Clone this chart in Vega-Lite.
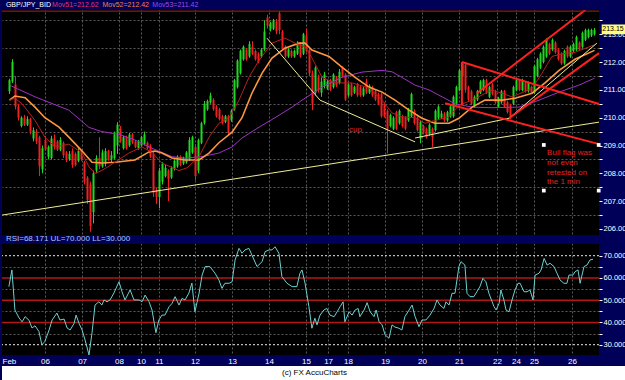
{
"$schema": "https://vega.github.io/schema/vega-lite/v6.json",
"background": "#000058",
"padding": 0,
"spacing": 0,
"config": {"view": {"stroke": null}, "font": "Liberation Sans", "text": {"font": "Liberation Sans", "fontSize": 8}, "axis": {"labelOverlap": false, "labelFlush": false, "labelBound": false, "tickCount": 100}},
"datasets": {
"bars": [
{"i":2,"o":210.95,"h":211.4,"l":210.85,"c":211.35},
{"i":3,"o":211.3,"h":212.1,"l":211.25,"c":212.0},
{"i":4,"o":211.2,"h":211.5,"l":210.3,"c":210.4},
{"i":5,"o":210.4,"h":210.5,"l":209.9,"c":210.0},
{"i":6,"o":209.7,"h":210.05,"l":209.65,"c":210.0},
{"i":7,"o":210.0,"h":210.1,"l":209.7,"c":209.75},
{"i":8,"o":209.75,"h":210.05,"l":209.7,"c":209.95},
{"i":9,"o":209.95,"h":210.0,"l":209.4,"c":209.5},
{"i":10,"o":209.25,"h":209.65,"l":209.15,"c":209.55},
{"i":11,"o":209.5,"h":209.6,"l":209.05,"c":209.15},
{"i":12,"o":209.3,"h":209.35,"l":207.9,"c":208.25},
{"i":13,"o":208.15,"h":209.0,"l":208.0,"c":208.9},
{"i":14,"o":209.2,"h":209.35,"l":208.8,"c":208.85},
{"i":15,"o":208.6,"h":209.0,"l":208.5,"c":208.95},
{"i":16,"o":208.55,"h":209.35,"l":208.5,"c":209.25},
{"i":17,"o":209.25,"h":209.4,"l":208.85,"c":208.95},
{"i":18,"o":209.15,"h":209.2,"l":208.8,"c":208.85},
{"i":19,"o":208.85,"h":209.3,"l":208.8,"c":209.2},
{"i":20,"o":209.1,"h":209.15,"l":208.55,"c":208.65},
{"i":21,"o":208.75,"h":208.8,"l":208.4,"c":208.5},
{"i":22,"o":208.5,"h":208.8,"l":208.45,"c":208.7},
{"i":23,"o":208.8,"h":208.9,"l":208.2,"c":208.3},
{"i":24,"o":208.7,"h":208.75,"l":208.25,"c":208.3},
{"i":25,"o":208.45,"h":208.9,"l":208.4,"c":208.8},
{"i":26,"o":208.75,"h":208.8,"l":208.45,"c":208.5},
{"i":27,"o":208.4,"h":208.45,"l":207.6,"c":207.7},
{"i":28,"o":207.85,"h":207.9,"l":206.9,"c":207.05},
{"i":29,"o":207.6,"h":207.7,"l":205.9,"c":206.1},
{"i":30,"o":206.6,"h":208.1,"l":206.2,"c":208.0},
{"i":31,"o":208.1,"h":208.65,"l":208.0,"c":208.55},
{"i":32,"o":208.55,"h":209.3,"l":208.15,"c":208.25},
{"i":33,"o":208.25,"h":208.85,"l":208.2,"c":208.75},
{"i":34,"o":208.35,"h":208.9,"l":208.25,"c":208.8},
{"i":35,"o":208.8,"h":208.85,"l":208.45,"c":208.5},
{"i":36,"o":208.5,"h":208.8,"l":208.4,"c":208.65},
{"i":37,"o":208.55,"h":209.5,"l":208.5,"c":209.4},
{"i":38,"o":209.0,"h":209.84,"l":208.7,"c":209.75},
{"i":39,"o":209.6,"h":209.7,"l":209.1,"c":209.15},
{"i":40,"o":208.9,"h":209.35,"l":208.85,"c":209.3},
{"i":41,"o":209.3,"h":209.35,"l":208.85,"c":208.9},
{"i":42,"o":209.0,"h":209.45,"l":208.95,"c":209.4},
{"i":43,"o":209.4,"h":209.45,"l":209.05,"c":209.1},
{"i":44,"o":209.15,"h":209.2,"l":208.9,"c":208.95},
{"i":45,"o":208.9,"h":209.2,"l":208.85,"c":209.15},
{"i":46,"o":209.0,"h":209.35,"l":208.95,"c":209.3},
{"i":47,"o":209.05,"h":209.5,"l":209.0,"c":209.4},
{"i":48,"o":209.1,"h":209.15,"l":208.85,"c":208.9},
{"i":49,"o":209.0,"h":209.05,"l":208.55,"c":208.6},
{"i":50,"o":208.7,"h":208.8,"l":207.15,"c":207.3},
{"i":51,"o":207.4,"h":207.5,"l":206.9,"c":207.15},
{"i":52,"o":207.15,"h":208.2,"l":206.75,"c":208.1},
{"i":53,"o":207.7,"h":208.4,"l":207.6,"c":208.35},
{"i":54,"o":207.9,"h":208.3,"l":207.85,"c":208.2},
{"i":55,"o":208.1,"h":208.15,"l":207.0,"c":207.8},
{"i":56,"o":207.85,"h":208.25,"l":207.8,"c":208.2},
{"i":57,"o":208.15,"h":208.5,"l":208.1,"c":208.45},
{"i":58,"o":208.25,"h":208.65,"l":208.2,"c":208.6},
{"i":59,"o":208.6,"h":208.65,"l":208.25,"c":208.3},
{"i":60,"o":208.35,"h":208.6,"l":208.3,"c":208.55},
{"i":61,"o":208.4,"h":208.8,"l":208.35,"c":208.75},
{"i":62,"o":208.5,"h":209.3,"l":208.45,"c":209.2},
{"i":63,"o":208.75,"h":209.35,"l":208.7,"c":209.3},
{"i":64,"o":208.95,"h":209.05,"l":207.75,"c":207.9},
{"i":65,"o":208.1,"h":209.25,"l":208.0,"c":209.2},
{"i":66,"o":209.1,"h":209.85,"l":209.05,"c":209.8},
{"i":67,"o":209.8,"h":210.6,"l":209.75,"c":210.5},
{"i":68,"o":210.3,"h":210.65,"l":210.25,"c":210.6},
{"i":69,"o":210.55,"h":210.9,"l":210.5,"c":210.8},
{"i":70,"o":210.65,"h":210.7,"l":210.25,"c":210.3},
{"i":71,"o":210.4,"h":210.45,"l":210.0,"c":210.05},
{"i":72,"o":210.3,"h":210.35,"l":209.9,"c":209.95},
{"i":73,"o":210.05,"h":210.1,"l":209.75,"c":209.8},
{"i":74,"o":209.85,"h":210.1,"l":209.8,"c":210.05},
{"i":75,"o":210.05,"h":210.1,"l":209.35,"c":209.45},
{"i":76,"o":209.9,"h":210.3,"l":209.85,"c":210.25},
{"i":77,"o":210.3,"h":211.4,"l":210.25,"c":211.35},
{"i":78,"o":211.1,"h":212.1,"l":211.05,"c":212.05},
{"i":79,"o":211.6,"h":212.45,"l":211.55,"c":212.4},
{"i":80,"o":212.1,"h":212.6,"l":212.05,"c":212.55},
{"i":81,"o":212.45,"h":212.5,"l":212.05,"c":212.1},
{"i":82,"o":212.2,"h":212.75,"l":212.15,"c":212.65},
{"i":83,"o":212.55,"h":212.75,"l":212.25,"c":212.3},
{"i":84,"o":212.4,"h":212.45,"l":212.05,"c":212.1},
{"i":85,"o":212.3,"h":212.35,"l":211.95,"c":212.0},
{"i":86,"o":212.2,"h":212.5,"l":212.15,"c":212.45},
{"i":87,"o":212.45,"h":213.5,"l":212.4,"c":213.1},
{"i":88,"o":213.6,"h":213.7,"l":213.2,"c":213.3},
{"i":89,"o":213.2,"h":213.45,"l":213.1,"c":213.4},
{"i":90,"o":213.2,"h":213.55,"l":213.15,"c":213.5},
{"i":91,"o":213.45,"h":213.55,"l":213.0,"c":213.1},
{"i":92,"o":213.75,"h":213.82,"l":213.0,"c":213.15},
{"i":93,"o":213.1,"h":213.15,"l":212.45,"c":212.5},
{"i":94,"o":212.55,"h":212.6,"l":212.15,"c":212.2},
{"i":95,"o":212.2,"h":212.5,"l":212.15,"c":212.45},
{"i":96,"o":212.4,"h":212.45,"l":212.15,"c":212.2},
{"i":97,"o":212.2,"h":212.45,"l":212.15,"c":212.4},
{"i":98,"o":212.3,"h":212.75,"l":212.25,"c":212.7},
{"i":99,"o":212.65,"h":212.7,"l":212.15,"c":212.2},
{"i":100,"o":212.3,"h":213.05,"l":212.25,"c":213.0},
{"i":101,"o":212.95,"h":213.2,"l":212.35,"c":212.4},
{"i":102,"o":212.43,"h":212.5,"l":211.5,"c":211.6},
{"i":103,"o":211.6,"h":211.7,"l":210.27,"c":210.5},
{"i":104,"o":210.9,"h":211.85,"l":210.8,"c":211.8},
{"i":105,"o":211.45,"h":211.55,"l":210.9,"c":211.0},
{"i":106,"o":210.9,"h":211.45,"l":210.75,"c":211.3},
{"i":107,"o":211.15,"h":211.65,"l":211.05,"c":211.55},
{"i":108,"o":211.05,"h":211.35,"l":211.0,"c":211.3},
{"i":109,"o":211.35,"h":211.4,"l":210.95,"c":211.0},
{"i":110,"o":211.1,"h":211.6,"l":211.05,"c":211.55},
{"i":111,"o":211.45,"h":211.5,"l":211.1,"c":211.15},
{"i":112,"o":211.25,"h":211.75,"l":211.2,"c":211.65},
{"i":113,"o":211.8,"h":211.85,"l":211.45,"c":211.5},
{"i":114,"o":211.55,"h":211.6,"l":210.6,"c":210.65},
{"i":115,"o":210.8,"h":211.25,"l":210.75,"c":211.2},
{"i":116,"o":211.2,"h":211.25,"l":210.75,"c":210.8},
{"i":117,"o":210.9,"h":211.15,"l":210.85,"c":211.1},
{"i":118,"o":211.2,"h":211.25,"l":210.75,"c":210.8},
{"i":119,"o":211.1,"h":211.15,"l":210.75,"c":210.8},
{"i":120,"o":210.8,"h":211.1,"l":210.75,"c":211.05},
{"i":121,"o":211.3,"h":211.4,"l":210.85,"c":210.9},
{"i":122,"o":210.9,"h":211.2,"l":210.85,"c":211.15},
{"i":123,"o":211.1,"h":211.15,"l":210.75,"c":210.8},
{"i":124,"o":210.95,"h":211.0,"l":210.6,"c":210.65},
{"i":125,"o":210.85,"h":210.9,"l":210.45,"c":210.5},
{"i":126,"o":210.85,"h":210.9,"l":210.0,"c":210.05},
{"i":127,"o":210.5,"h":210.55,"l":210.0,"c":210.05},
{"i":128,"o":210.25,"h":210.3,"l":208.72,"c":209.6},
{"i":129,"o":209.7,"h":210.15,"l":209.65,"c":210.1},
{"i":130,"o":209.6,"h":210.05,"l":209.55,"c":210.0},
{"i":131,"o":210.2,"h":210.25,"l":209.55,"c":209.6},
{"i":132,"o":209.8,"h":210.3,"l":209.75,"c":210.25},
{"i":133,"o":210.05,"h":210.1,"l":209.65,"c":209.7},
{"i":134,"o":210.0,"h":210.05,"l":209.55,"c":209.6},
{"i":135,"o":209.9,"h":210.35,"l":209.85,"c":210.3},
{"i":136,"o":210.05,"h":210.9,"l":210.0,"c":210.85},
{"i":137,"o":210.25,"h":210.3,"l":209.75,"c":209.8},
{"i":138,"o":210.0,"h":210.05,"l":209.5,"c":209.55},
{"i":139,"o":209.25,"h":209.9,"l":209.08,"c":209.85},
{"i":140,"o":209.7,"h":209.75,"l":209.4,"c":209.45},
{"i":141,"o":209.6,"h":209.65,"l":209.25,"c":209.3},
{"i":142,"o":209.4,"h":209.8,"l":209.35,"c":209.75},
{"i":143,"o":209.6,"h":209.65,"l":208.95,"c":209.3},
{"i":144,"o":209.55,"h":210.3,"l":209.5,"c":210.25},
{"i":145,"o":210.0,"h":210.45,"l":209.95,"c":210.4},
{"i":146,"o":210.0,"h":210.25,"l":209.95,"c":210.15},
{"i":147,"o":210.15,"h":210.2,"l":209.85,"c":209.9},
{"i":148,"o":209.9,"h":210.25,"l":209.85,"c":210.2},
{"i":149,"o":210.05,"h":210.45,"l":210.0,"c":210.4},
{"i":150,"o":210.05,"h":210.8,"l":210.0,"c":210.75},
{"i":151,"o":210.5,"h":211.15,"l":210.45,"c":211.1},
{"i":152,"o":210.99,"h":211.75,"l":210.95,"c":211.7},
{"i":153,"o":211.5,"h":212.0,"l":211.45,"c":211.95},
{"i":154,"o":211.9,"h":211.95,"l":210.9,"c":211.0},
{"i":155,"o":211.1,"h":211.15,"l":210.6,"c":210.65},
{"i":156,"o":210.95,"h":211.0,"l":210.45,"c":210.5},
{"i":157,"o":210.4,"h":210.8,"l":210.35,"c":210.75},
{"i":158,"o":210.65,"h":211.0,"l":210.6,"c":210.95},
{"i":159,"o":210.9,"h":211.35,"l":210.85,"c":211.3},
{"i":160,"o":211.0,"h":211.4,"l":210.95,"c":211.35},
{"i":161,"o":211.35,"h":211.4,"l":210.85,"c":210.9},
{"i":162,"o":210.75,"h":211.15,"l":210.7,"c":211.1},
{"i":163,"o":211.2,"h":211.25,"l":210.8,"c":210.85},
{"i":164,"o":210.95,"h":211.0,"l":210.5,"c":210.55},
{"i":165,"o":210.4,"h":210.75,"l":210.35,"c":210.7},
{"i":166,"o":210.55,"h":211.0,"l":210.5,"c":210.95},
{"i":167,"o":210.95,"h":211.0,"l":210.35,"c":210.4},
{"i":168,"o":210.55,"h":210.6,"l":210.15,"c":210.2},
{"i":169,"o":210.45,"h":210.5,"l":209.95,"c":210.0},
{"i":170,"o":210.5,"h":211.15,"l":210.45,"c":211.1},
{"i":171,"o":210.99,"h":211.4,"l":210.95,"c":211.35},
{"i":172,"o":211.35,"h":211.4,"l":210.95,"c":211.0},
{"i":173,"o":210.99,"h":211.4,"l":210.95,"c":211.35},
{"i":174,"o":211.25,"h":211.3,"l":210.9,"c":210.95},
{"i":175,"o":210.95,"h":211.3,"l":210.9,"c":211.25},
{"i":176,"o":211.1,"h":211.15,"l":210.85,"c":210.9},
{"i":177,"o":210.9,"h":211.9,"l":210.85,"c":211.85},
{"i":178,"o":211.5,"h":212.15,"l":211.45,"c":212.1},
{"i":179,"o":211.8,"h":212.35,"l":211.75,"c":212.3},
{"i":180,"o":212.0,"h":212.6,"l":211.95,"c":212.55},
{"i":181,"o":212.2,"h":212.85,"l":212.15,"c":212.8},
{"i":182,"o":212.65,"h":212.7,"l":212.25,"c":212.3},
{"i":183,"o":212.45,"h":212.85,"l":212.4,"c":212.8},
{"i":184,"o":212.7,"h":212.75,"l":212.3,"c":212.35},
{"i":185,"o":212.45,"h":212.5,"l":212.05,"c":212.1},
{"i":186,"o":212.3,"h":212.35,"l":211.9,"c":211.95},
{"i":187,"o":211.95,"h":212.45,"l":211.9,"c":212.4},
{"i":188,"o":212.55,"h":212.6,"l":212.15,"c":212.2},
{"i":189,"o":212.2,"h":212.6,"l":212.15,"c":212.55},
{"i":190,"o":212.4,"h":212.7,"l":212.35,"c":212.65},
{"i":191,"o":212.45,"h":212.95,"l":212.4,"c":212.9},
{"i":192,"o":212.7,"h":212.75,"l":212.4,"c":212.45},
{"i":193,"o":212.55,"h":213.1,"l":212.5,"c":213.05},
{"i":194,"o":212.8,"h":213.2,"l":212.75,"c":213.15},
{"i":195,"o":212.9,"h":213.2,"l":212.85,"c":213.15},
{"i":196,"o":212.95,"h":213.2,"l":212.9,"c":213.15},
{"i":197,"o":213.0,"h":213.22,"l":212.95,"c":213.15}
],
"ma": [
{"s":"Mov51","i":2,"v":210.63},{"s":"Mov51","i":3.8,"v":210.7},{"s":"Mov51","i":6.2,"v":210.5},{"s":"Mov51","i":10.5,"v":209.9},{"s":"Mov51","i":13.8,"v":209.3},{"s":"Mov51","i":17.2,"v":208.95},{"s":"Mov51","i":21.8,"v":209.05},{"s":"Mov51","i":26.2,"v":208.73},{"s":"Mov51","i":28.5,"v":208.23},{"s":"Mov51","i":30.5,"v":208.0},{"s":"Mov51","i":32.8,"v":208.1},{"s":"Mov51","i":37.2,"v":208.4},{"s":"Mov51","i":41.8,"v":208.73},{"s":"Mov51","i":46.2,"v":208.95},{"s":"Mov51","i":49.5,"v":208.75},{"s":"Mov51","i":52.8,"v":208.37},{"s":"Mov51","i":58.5,"v":208.1},{"s":"Mov51","i":61.2,"v":208.2},{"s":"Mov51","i":65.2,"v":208.6},{"s":"Mov51","i":68.5,"v":209.3},{"s":"Mov51","i":71.8,"v":209.8},{"s":"Mov51","i":75.2,"v":210.0},{"s":"Mov51","i":78.5,"v":210.63},{"s":"Mov51","i":81.8,"v":211.45},{"s":"Mov51","i":85.2,"v":212.07},{"s":"Mov51","i":89.5,"v":212.68},{"s":"Mov51","i":93.8,"v":212.86},{"s":"Mov51","i":97.2,"v":212.68},{"s":"Mov51","i":100.5,"v":212.55},{"s":"Mov51","i":102.8,"v":212.15},{"s":"Mov51","i":106.2,"v":211.45},{"s":"Mov51","i":110.5,"v":211.25},{"s":"Mov51","i":116.2,"v":211.25},{"s":"Mov51","i":121.8,"v":211.07},{"s":"Mov51","i":126.2,"v":210.63},{"s":"Mov51","i":129.5,"v":210.17},{"s":"Mov51","i":132.8,"v":210.03},{"s":"Mov51","i":137.2,"v":210.0},{"s":"Mov51","i":140.5,"v":209.8},{"s":"Mov51","i":143.8,"v":209.9},{"s":"Mov51","i":148.5,"v":210.03},{"s":"Mov51","i":151.8,"v":210.45},{"s":"Mov51","i":156.2,"v":210.63},{"s":"Mov51","i":162.8,"v":211.0},{"s":"Mov51","i":169.5,"v":210.75},{"s":"Mov51","i":176.2,"v":211.05},{"s":"Mov51","i":179.5,"v":211.6},{"s":"Mov51","i":182.8,"v":212.2},{"s":"Mov51","i":186.2,"v":212.3},{"s":"Mov51","i":190.5,"v":212.35},{"s":"Mov51","i":197,"v":212.62},
{"s":"Mov52","i":2,"v":210.63},{"s":"Mov52","i":3.8,"v":210.78},{"s":"Mov52","i":7.2,"v":210.72},{"s":"Mov52","i":10.5,"v":210.38},{"s":"Mov52","i":13.8,"v":210.0},{"s":"Mov52","i":18.5,"v":209.66},{"s":"Mov52","i":21.8,"v":209.3},{"s":"Mov52","i":26.2,"v":208.8},{"s":"Mov52","i":29.5,"v":208.4},{"s":"Mov52","i":32.8,"v":208.37},{"s":"Mov52","i":37.2,"v":208.4},{"s":"Mov52","i":43.8,"v":208.48},{"s":"Mov52","i":48.5,"v":208.77},{"s":"Mov52","i":50.5,"v":208.8},{"s":"Mov52","i":52.8,"v":208.73},{"s":"Mov52","i":56.2,"v":208.55},{"s":"Mov52","i":60.5,"v":208.48},{"s":"Mov52","i":65.2,"v":208.48},{"s":"Mov52","i":68.5,"v":208.73},{"s":"Mov52","i":71.8,"v":209.1},{"s":"Mov52","i":76.2,"v":209.48},{"s":"Mov52","i":79.5,"v":210.0},{"s":"Mov52","i":82.8,"v":210.88},{"s":"Mov52","i":86.2,"v":211.6},{"s":"Mov52","i":89.5,"v":212.14},{"s":"Mov52","i":93.8,"v":212.5},{"s":"Mov52","i":98.5,"v":212.68},{"s":"Mov52","i":100.5,"v":212.68},{"s":"Mov52","i":102.8,"v":212.43},{"s":"Mov52","i":108.5,"v":212.2},{"s":"Mov52","i":112.8,"v":211.82},{"s":"Mov52","i":117.2,"v":211.45},{"s":"Mov52","i":121.8,"v":211.1},{"s":"Mov52","i":126.2,"v":210.92},{"s":"Mov52","i":130.5,"v":210.63},{"s":"Mov52","i":135.2,"v":210.27},{"s":"Mov52","i":139.5,"v":209.98},{"s":"Mov52","i":143.8,"v":209.8},{"s":"Mov52","i":148.5,"v":209.8},{"s":"Mov52","i":151.8,"v":209.98},{"s":"Mov52","i":156.2,"v":210.38},{"s":"Mov52","i":160.5,"v":210.63},{"s":"Mov52","i":166.2,"v":210.63},{"s":"Mov52","i":170.5,"v":210.7},{"s":"Mov52","i":176.2,"v":210.88},{"s":"Mov52","i":180.5,"v":211.25},{"s":"Mov52","i":185.2,"v":211.7},{"s":"Mov52","i":190.5,"v":212.1},{"s":"Mov52","i":197,"v":212.42},
{"s":"Mov53","i":2,"v":211.17},{"s":"Mov53","i":10.5,"v":210.75},{"s":"Mov53","i":21.8,"v":210.27},{"s":"Mov53","i":28.5,"v":209.65},{"s":"Mov53","i":32.8,"v":209.5},{"s":"Mov53","i":38.5,"v":209.4},{"s":"Mov53","i":43.8,"v":209.2},{"s":"Mov53","i":49.5,"v":208.9},{"s":"Mov53","i":56.2,"v":208.6},{"s":"Mov53","i":60.5,"v":208.55},{"s":"Mov53","i":66.2,"v":208.6},{"s":"Mov53","i":71.8,"v":208.73},{"s":"Mov53","i":76.2,"v":208.95},{"s":"Mov53","i":79.5,"v":209.27},{"s":"Mov53","i":85.2,"v":209.66},{"s":"Mov53","i":90.5,"v":210.0},{"s":"Mov53","i":96.2,"v":210.38},{"s":"Mov53","i":99.5,"v":210.63},{"s":"Mov53","i":106.2,"v":211.1},{"s":"Mov53","i":112.8,"v":211.45},{"s":"Mov53","i":119.5,"v":211.64},{"s":"Mov53","i":126.2,"v":211.7},{"s":"Mov53","i":129.5,"v":211.65},{"s":"Mov53","i":132.8,"v":211.45},{"s":"Mov53","i":137.2,"v":211.17},{"s":"Mov53","i":141.8,"v":211.0},{"s":"Mov53","i":146.2,"v":210.75},{"s":"Mov53","i":150.5,"v":210.5},{"s":"Mov53","i":156.2,"v":210.38},{"s":"Mov53","i":162.8,"v":210.36},{"s":"Mov53","i":171.8,"v":210.38},{"s":"Mov53","i":178.5,"v":210.63},{"s":"Mov53","i":185.2,"v":210.92},{"s":"Mov53","i":191.8,"v":211.17},{"s":"Mov53","i":197,"v":211.42}
],
"ylines": [
{"g":"L","i":-0.5,"v":206.5},{"g":"L","i":198.5,"v":209.84},
{"g":"A","i":87.8,"v":212.86},{"g":"A","i":105.5,"v":210.63},{"g":"A","i":137.2,"v":209.13},
{"g":"C","i":137.2,"v":209.27},{"g":"C","i":168.5,"v":209.98},{"g":"C","i":197.8,"v":212.68}
],
"rlines": [
{"g":"R1","i":157.8,"v":210.88},{"g":"R1","i":193.9,"v":213.87},
{"g":"R2","i":168.5,"v":209.98},{"g":"R2","i":198.5,"v":212.32},
{"g":"R3","i":152.8,"v":212.0},{"g":"R3","i":198.5,"v":210.49},
{"g":"R4","i":147.2,"v":210.52},{"g":"R4","i":198.5,"v":209.05},
{"g":"R5","i":152.8,"v":212.0},{"g":"R5","i":152.8,"v":210.45}
],
"notes": [
{"i":115.2,"v":209.55,"t":"cup"},
{"i":181.2,"v":208.72,"t":"Bull flag was"},
{"i":181.2,"v":208.36,"t":"not even"},
{"i":181.2,"v":208.02,"t":"retested on"},
{"i":181.2,"v":207.68,"t":"the 1 min"}
],
"handles": [{"i":180.1,"v":209.02},{"i":180.1,"v":207.38},{"i":198.4,"v":209.02},{"i":198.4,"v":207.38}],
"hdr": [
{"i":0.8,"v":214.05,"t":"GBP/JPY_BID","s":"a"},
{"i":16.2,"v":214.05,"t":"Mov51=212.62","s":"b"},
{"i":33.0,"v":214.05,"t":"Mov52=212.42","s":"c"},
{"i":49.6,"v":214.05,"t":"Mov53=211.42","s":"d"}
],
"rsi": [
{"i":1.8,"r":56.1},{"i":2.8,"r":63.6},{"i":3.8,"r":45.6},{"i":5.2,"r":42},{"i":6.2,"r":40.3},{"i":7.2,"r":42.6},{"i":8.5,"r":41},{"i":9.5,"r":37.5},{"i":10.5,"r":38.5},{"i":11.8,"r":36},{"i":12.8,"r":29.9},{"i":13.8,"r":31.5},{"i":15.2,"r":36.6},{"i":16.2,"r":41.1},{"i":17.8,"r":44.2},{"i":18.8,"r":41.1},{"i":20.2,"r":41.5},{"i":21.2,"r":37.5},{"i":22.2,"r":36.6},{"i":23.5,"r":39.5},{"i":24.2,"r":43.3},{"i":25.2,"r":39.5},{"i":26.2,"r":36.6},{"i":27.2,"r":32.1},{"i":28.5,"r":25.4},{"i":29.5,"r":35.3},{"i":30.5,"r":47.8},{"i":31.8,"r":49.3},{"i":32.8,"r":47.8},{"i":33.5,"r":50.1},{"i":34.5,"r":49.3},{"i":35.5,"r":50.1},{"i":36.8,"r":53.2},{"i":38.5,"r":58.3},{"i":39.5,"r":53.8},{"i":40.5,"r":50.1},{"i":42.2,"r":54.6},{"i":43.5,"r":50.1},{"i":45.2,"r":50.1},{"i":46.2,"r":49.3},{"i":47.2,"r":52.3},{"i":48.5,"r":49.3},{"i":49.5,"r":45.6},{"i":50.8,"r":35.4},{"i":51.8,"r":41.1},{"i":52.8,"r":43.3},{"i":53.8,"r":43.3},{"i":55.2,"r":47.1},{"i":56.2,"r":48.6},{"i":57.2,"r":51.6},{"i":58.5,"r":47.8},{"i":59.5,"r":50.8},{"i":60.5,"r":50.1},{"i":61.8,"r":53.2},{"i":62.8,"r":57.7},{"i":63.8,"r":44.8},{"i":65.2,"r":53.2},{"i":66.2,"r":61.3},{"i":67.2,"r":65.1},{"i":68.8,"r":65.1},{"i":70.5,"r":62.1},{"i":71.8,"r":59.1},{"i":72.8,"r":55.3},{"i":73.8,"r":57.6},{"i":75.2,"r":57.6},{"i":76.2,"r":58.3},{"i":77.2,"r":68.1},{"i":78.5,"r":73.3},{"i":79.5,"r":71.1},{"i":80.5,"r":72.6},{"i":81.8,"r":73.3},{"i":82.8,"r":70.3},{"i":84.5,"r":65.1},{"i":86.2,"r":67.3},{"i":87.2,"r":71.8},{"i":88.5,"r":72.6},{"i":89.5,"r":72.6},{"i":90.5,"r":74.0},{"i":91.8,"r":71.1},{"i":92.8,"r":60.6},{"i":94.5,"r":57.6},{"i":96.2,"r":56.1},{"i":97.8,"r":56.1},{"i":98.8,"r":62.1},{"i":99.5,"r":63.6},{"i":100.5,"r":57.7},{"i":101.8,"r":47.1},{"i":102.8,"r":37.4},{"i":103.8,"r":41.9},{"i":104.5,"r":38.9},{"i":105.5,"r":43.3},{"i":106.8,"r":45.6},{"i":107.8,"r":46.3},{"i":108.8,"r":43.3},{"i":110.2,"r":42.6},{"i":111.2,"r":44.8},{"i":112.2,"r":47.1},{"i":113.2,"r":49.3},{"i":113.8,"r":40.3},{"i":115.2,"r":44.8},{"i":116.2,"r":43.3},{"i":117.2,"r":45.6},{"i":118.2,"r":46.3},{"i":118.8,"r":42.6},{"i":120.2,"r":45.6},{"i":121.2,"r":48.9},{"i":122.2,"r":44.8},{"i":123.5,"r":42.6},{"i":124.2,"r":45.6},{"i":125.2,"r":40.3},{"i":126.2,"r":38.9},{"i":127.2,"r":34.4},{"i":128.5,"r":32.9},{"i":129.5,"r":38.9},{"i":130.5,"r":37.9},{"i":131.8,"r":37.4},{"i":132.8,"r":36.6},{"i":133.8,"r":42.6},{"i":135.2,"r":45.6},{"i":136.2,"r":47.8},{"i":137.2,"r":42.6},{"i":138.5,"r":38.1},{"i":139.5,"r":41.1},{"i":140.8,"r":41.1},{"i":142.2,"r":43.3},{"i":143.5,"r":46.3},{"i":144.5,"r":50.1},{"i":145.5,"r":47.8},{"i":146.8,"r":46.3},{"i":147.5,"r":49.3},{"i":148.5,"r":47.8},{"i":149.5,"r":53.1},{"i":150.5,"r":53.1},{"i":151.8,"r":65.1},{"i":152.5,"r":67.3},{"i":153.8,"r":65.8},{"i":154.5,"r":53.1},{"i":155.5,"r":51.6},{"i":156.8,"r":51.6},{"i":157.8,"r":53.8},{"i":158.8,"r":56.1},{"i":159.8,"r":59.8},{"i":160.8,"r":58.3},{"i":161.8,"r":53.1},{"i":163.5,"r":47.1},{"i":164.2,"r":45.6},{"i":165.2,"r":48.6},{"i":165.8,"r":54.6},{"i":166.8,"r":50.1},{"i":167.5,"r":45.6},{"i":168.5,"r":44.8},{"i":169.5,"r":50.1},{"i":170.5,"r":54.6},{"i":171.5,"r":57.6},{"i":172.2,"r":57.6},{"i":173.5,"r":53.8},{"i":174.5,"r":53.8},{"i":175.5,"r":54.6},{"i":176.5,"r":50.1},{"i":177.2,"r":61.3},{"i":178.5,"r":62.1},{"i":179.2,"r":63.6},{"i":180.2,"r":68.8},{"i":181.2,"r":65.8},{"i":182.2,"r":66.6},{"i":183.5,"r":65.1},{"i":184.5,"r":62.1},{"i":185.5,"r":59.1},{"i":186.8,"r":57.6},{"i":187.8,"r":57.6},{"i":188.5,"r":61.3},{"i":189.8,"r":61.3},{"i":190.5,"r":62.8},{"i":191.5,"r":63.6},{"i":192.2,"r":57.6},{"i":193.5,"r":65.1},{"i":194.5,"r":65.8},{"i":195.5,"r":68.1},{"i":196.5,"r":68.4}
]
},
"vconcat": [
{
"width": 597, "height": 235,
"view": {"fill": "#000000", "stroke": null},
"layer": [
{"data": {"name": "bars"}, "mark": {"type": "rule", "strokeWidth": 1},
 "encoding": {
  "x": {"field": "i", "type": "quantitative", "scale": {"domain": [-0.5, 198.5], "nice": false, "zero": false},
        "axis": {"orient": "bottom", "values": [13.8,26.2,38.5,45.8,51.8,63.8,76.2,88.5,100.8,108.2,114.8,127.2,139.5,151.8,164.5,170.8,176.8,189.5], "tickCount": 100, "labels": false, "ticks": false, "domain": false, "grid": true, "gridColor": "#5a5a5a", "gridDash": [2,2], "title": null, "minExtent": 0, "maxExtent": 0}},
  "y": {"field": "l", "type": "quantitative", "scale": {"domain": [205.784, 214.23], "nice": false, "zero": false},
        "axis": {"orient": "right", "values": [206,206.5,207,207.5,208,208.5,209,209.5,210,210.5,211,211.5,212,212.5,213,213.5], "tickCount": 100, "labelExpr": "datum.value % 1 == 0 ? format(datum.value, '.2f') : ''", "grid": true, "gridColor": "#5a5a5a", "gridDash": [2,2], "gridOpacity": {"condition": {"test": "datum.value % 1 != 0", "value": 1}, "value": 0}, "ticks": true, "tickColor": "#ffffff", "tickSize": 3, "domain": false, "labelColor": "#ffffff", "labelFont": "Liberation Sans", "labelFontSize": 7.5, "labelPadding": 1, "labelOverlap": false, "labelBound": false, "title": null, "minExtent": 28, "maxExtent": 28}},
  "y2": {"field": "h"},
  "color": {"condition": {"test": "datum.c >= datum.o", "value": "#20d820"}, "value": "#ee2020"}
 }},
{"data": {"name": "bars"}, "mark": {"type": "rule", "strokeWidth": 2},
 "encoding": {
  "x": {"field": "i", "type": "quantitative", "scale": {"domain": [-0.5, 198.5], "nice": false, "zero": false}},
  "y": {"field": "o", "type": "quantitative", "scale": {"domain": [205.784, 214.23], "nice": false, "zero": false}},
  "y2": {"field": "c"},
  "color": {"condition": {"test": "datum.c >= datum.o", "value": "#20d820"}, "value": "#ee2020"}
 }},
{"data": {"name": "ma"}, "transform": [{"filter": "datum.s == 'Mov53'"}], "mark": {"type": "line", "color": "#a030c8", "strokeWidth": 1},
 "encoding": {
  "x": {"field": "i", "type": "quantitative", "scale": {"domain": [-0.5, 198.5], "nice": false, "zero": false}},
  "y": {"field": "v", "type": "quantitative", "scale": {"domain": [205.784, 214.23], "nice": false, "zero": false}}
 }},
{"data": {"name": "ma"}, "transform": [{"filter": "datum.s == 'Mov52'"}], "mark": {"type": "line", "color": "#ff9640", "strokeWidth": 1.6},
 "encoding": {
  "x": {"field": "i", "type": "quantitative", "scale": {"domain": [-0.5, 198.5], "nice": false, "zero": false}},
  "y": {"field": "v", "type": "quantitative", "scale": {"domain": [205.784, 214.23], "nice": false, "zero": false}}
 }},
{"data": {"name": "ma"}, "transform": [{"filter": "datum.s == 'Mov51'"}], "mark": {"type": "line", "color": "#b82020", "strokeWidth": 1},
 "encoding": {
  "x": {"field": "i", "type": "quantitative", "scale": {"domain": [-0.5, 198.5], "nice": false, "zero": false}},
  "y": {"field": "v", "type": "quantitative", "scale": {"domain": [205.784, 214.23], "nice": false, "zero": false}}
 }},
{"data": {"name": "ylines"}, "mark": {"type": "line", "color": "#eeee99", "strokeWidth": 1},
 "encoding": {
  "x": {"field": "i", "type": "quantitative", "scale": {"domain": [-0.5, 198.5], "nice": false, "zero": false}},
  "y": {"field": "v", "type": "quantitative", "scale": {"domain": [205.784, 214.23], "nice": false, "zero": false}},
  "detail": {"field": "g", "type": "nominal"}
 }},
{"data": {"name": "rlines"}, "mark": {"type": "line", "color": "#ff2020", "strokeWidth": 2},
 "encoding": {
  "x": {"field": "i", "type": "quantitative", "scale": {"domain": [-0.5, 198.5], "nice": false, "zero": false}},
  "y": {"field": "v", "type": "quantitative", "scale": {"domain": [205.784, 214.23], "nice": false, "zero": false}},
  "detail": {"field": "g", "type": "nominal"}
 }},
{"data": {"values": [{"v": 213.83}]}, "mark": {"type": "rule", "color": "#a82020", "strokeWidth": 1},
 "encoding": {
  "y": {"field": "v", "type": "quantitative", "scale": {"domain": [205.784, 214.23], "nice": false, "zero": false}}
 }},
{"data": {"name": "notes"}, "mark": {"type": "text", "align": "left", "baseline": "middle", "color": "#e02424", "fontSize": 8, "font": "Liberation Sans"},
 "encoding": {
  "x": {"field": "i", "type": "quantitative", "scale": {"domain": [-0.5, 198.5], "nice": false, "zero": false}},
  "y": {"field": "v", "type": "quantitative", "scale": {"domain": [205.784, 214.23], "nice": false, "zero": false}},
  "text": {"field": "t"}
 }},
{"data": {"name": "handles"}, "mark": {"type": "square", "filled": true, "color": "#ffffff", "size": 14, "opacity": 1},
 "encoding": {
  "x": {"field": "i", "type": "quantitative", "scale": {"domain": [-0.5, 198.5], "nice": false, "zero": false}},
  "y": {"field": "v", "type": "quantitative", "scale": {"domain": [205.784, 214.23], "nice": false, "zero": false}}
 }},
{"data": {"values": [{"i": -0.5, "i2": 198.5, "v": 213.87, "v2": 214.23}]}, "mark": {"type": "rect", "color": "#000058"},
 "encoding": {
  "x": {"field": "i", "type": "quantitative", "scale": {"domain": [-0.5, 198.5], "nice": false, "zero": false}},
  "x2": {"field": "i2"},
  "y": {"field": "v", "type": "quantitative", "scale": {"domain": [205.784, 214.23], "nice": false, "zero": false}},
  "y2": {"field": "v2"}
 }},
{"data": {"name": "hdr"}, "mark": {"type": "text", "align": "left", "baseline": "middle", "fontSize": 7, "font": "Liberation Sans"},
 "encoding": {
  "x": {"field": "i", "type": "quantitative", "scale": {"domain": [-0.5, 198.5], "nice": false, "zero": false}},
  "y": {"field": "v", "type": "quantitative", "scale": {"domain": [205.784, 214.23], "nice": false, "zero": false}},
  "text": {"field": "t"},
  "color": {"field": "s", "type": "nominal", "scale": {"domain": ["a","b","c","d"], "range": ["#ffffff","#e8306a","#f08050","#a848e0"]}, "legend": null}
 }},
{"data": {"values": [{"i": 199.4, "i2": 207.6, "v": 213.0, "v2": 213.35}]}, "mark": {"type": "rect", "color": "#ffff80"},
 "encoding": {
  "x": {"field": "i", "type": "quantitative", "scale": {"domain": [-0.5, 198.5], "nice": false, "zero": false}},
  "x2": {"field": "i2"},
  "y": {"field": "v", "type": "quantitative", "scale": {"domain": [205.784, 214.23], "nice": false, "zero": false}},
  "y2": {"field": "v2"}
 }},
{"data": {"values": [{"i": 199.6, "v": 213.17, "t": "213.15"}]}, "mark": {"type": "text", "align": "left", "baseline": "middle", "color": "#000000", "fontSize": 7, "font": "Liberation Sans"},
 "encoding": {
  "x": {"field": "i", "type": "quantitative", "scale": {"domain": [-0.5, 198.5], "nice": false, "zero": false}},
  "y": {"field": "v", "type": "quantitative", "scale": {"domain": [205.784, 214.23], "nice": false, "zero": false}},
  "text": {"field": "t"}
 }}
]
},
{
"width": 597, "height": 120,
"view": {"fill": "#000000", "stroke": null},
"layer": [
{"data": {"values": [{"lv": 70}, {"lv": 30}]}, "mark": {"type": "rule", "color": "#e8e8e8", "strokeDash": [2,2], "strokeWidth": 1},
 "encoding": {
  "y": {"field": "lv", "type": "quantitative", "scale": {"domain": [25.37, 79.3], "nice": false, "zero": false}}
 }},
{"data": {"values": [{"lv": 60}, {"lv": 50}, {"lv": 40}]}, "mark": {"type": "rule", "color": "#b01818", "strokeWidth": 1.5},
 "encoding": {
  "y": {"field": "lv", "type": "quantitative", "scale": {"domain": [25.37, 79.3], "nice": false, "zero": false}}
 }},
{"data": {"name": "rsi"}, "mark": {"type": "line", "color": "#6fd0d0", "strokeWidth": 1},
 "encoding": {
  "x": {"field": "i", "type": "quantitative", "scale": {"domain": [-0.5, 198.5], "nice": false, "zero": false},
        "axis": {"orient": "bottom", "values": [1.8,13.8,26.2,38.5,45.8,51.8,63.8,76.2,88.5,100.8,108.2,114.8,127.2,139.5,151.8,164.5,170.8,176.8,189.5], "tickCount": 100, "labelExpr": "['Feb','06','07','08','10','11','12','13','14','15','17','18','19','20','21','22','24','25','26'][indexof([1.8,13.8,26.2,38.5,45.8,51.8,63.8,76.2,88.5,100.8,108.2,114.8,127.2,139.5,151.8,164.5,170.8,176.8,189.5], datum.value)]", "grid": true, "gridColor": "#5a5a5a", "gridDash": [2,2], "gridOpacity": {"condition": {"test": "datum.value < 5", "value": 0}, "value": 1}, "ticks": false, "domain": false, "labelColor": "#ffffff", "labelFont": "Liberation Sans", "labelFontSize": 8, "labelPadding": 2, "labelFlush": false, "labelOverlap": false, "labelBound": false, "title": null, "minExtent": 11, "maxExtent": 11}},
  "y": {"field": "r", "type": "quantitative", "scale": {"domain": [25.37, 79.3], "nice": false, "zero": false},
        "axis": {"orient": "right", "values": [30,35,40,45,50,55,60,65,70], "tickCount": 100, "labelExpr": "datum.value % 10 == 0 ? format(datum.value, '.3f') : ''", "grid": true, "gridColor": "#5a5a5a", "gridDash": [2,2], "gridOpacity": {"condition": {"test": "datum.value % 10 != 0", "value": 1}, "value": 0}, "ticks": true, "tickColor": "#ffffff", "tickSize": 3, "domain": false, "labelColor": "#ffffff", "labelFont": "Liberation Sans", "labelFontSize": 7.5, "labelPadding": 1, "labelOverlap": false, "labelBound": false, "title": null, "minExtent": 28, "maxExtent": 28}}
 }},
{"data": {"values": [{"i": -0.5, "i2": 198.5, "v": 75.26, "v2": 79.3}]}, "mark": {"type": "rect", "color": "#000058"},
 "encoding": {
  "x": {"field": "i", "type": "quantitative", "scale": {"domain": [-0.5, 198.5], "nice": false, "zero": false}},
  "x2": {"field": "i2"},
  "y": {"field": "v", "type": "quantitative", "scale": {"domain": [25.37, 79.3], "nice": false, "zero": false}},
  "y2": {"field": "v2"}
 }},
{"data": {"values": [{"i": 0.8, "v": 77.3, "t": "RSI=68.171 UL=70.000 LL=30.000"}]}, "mark": {"type": "text", "align": "left", "baseline": "middle", "color": "#a8c8f0", "fontSize": 8, "font": "Liberation Sans"},
 "encoding": {
  "x": {"field": "i", "type": "quantitative", "scale": {"domain": [-0.5, 198.5], "nice": false, "zero": false}},
  "y": {"field": "v", "type": "quantitative", "scale": {"domain": [25.37, 79.3], "nice": false, "zero": false}},
  "text": {"field": "t"}
 }}
]
},
{
"width": 625, "height": 14,
"view": {"fill": "#ffffff", "stroke": null},
"data": {"values": [{"t": "(c) FX AccuCharts"}]},
"mark": {"type": "text", "fontSize": 8, "color": "#000000", "font": "Liberation Sans"},
"encoding": {"text": {"field": "t"}}
}
]
}
